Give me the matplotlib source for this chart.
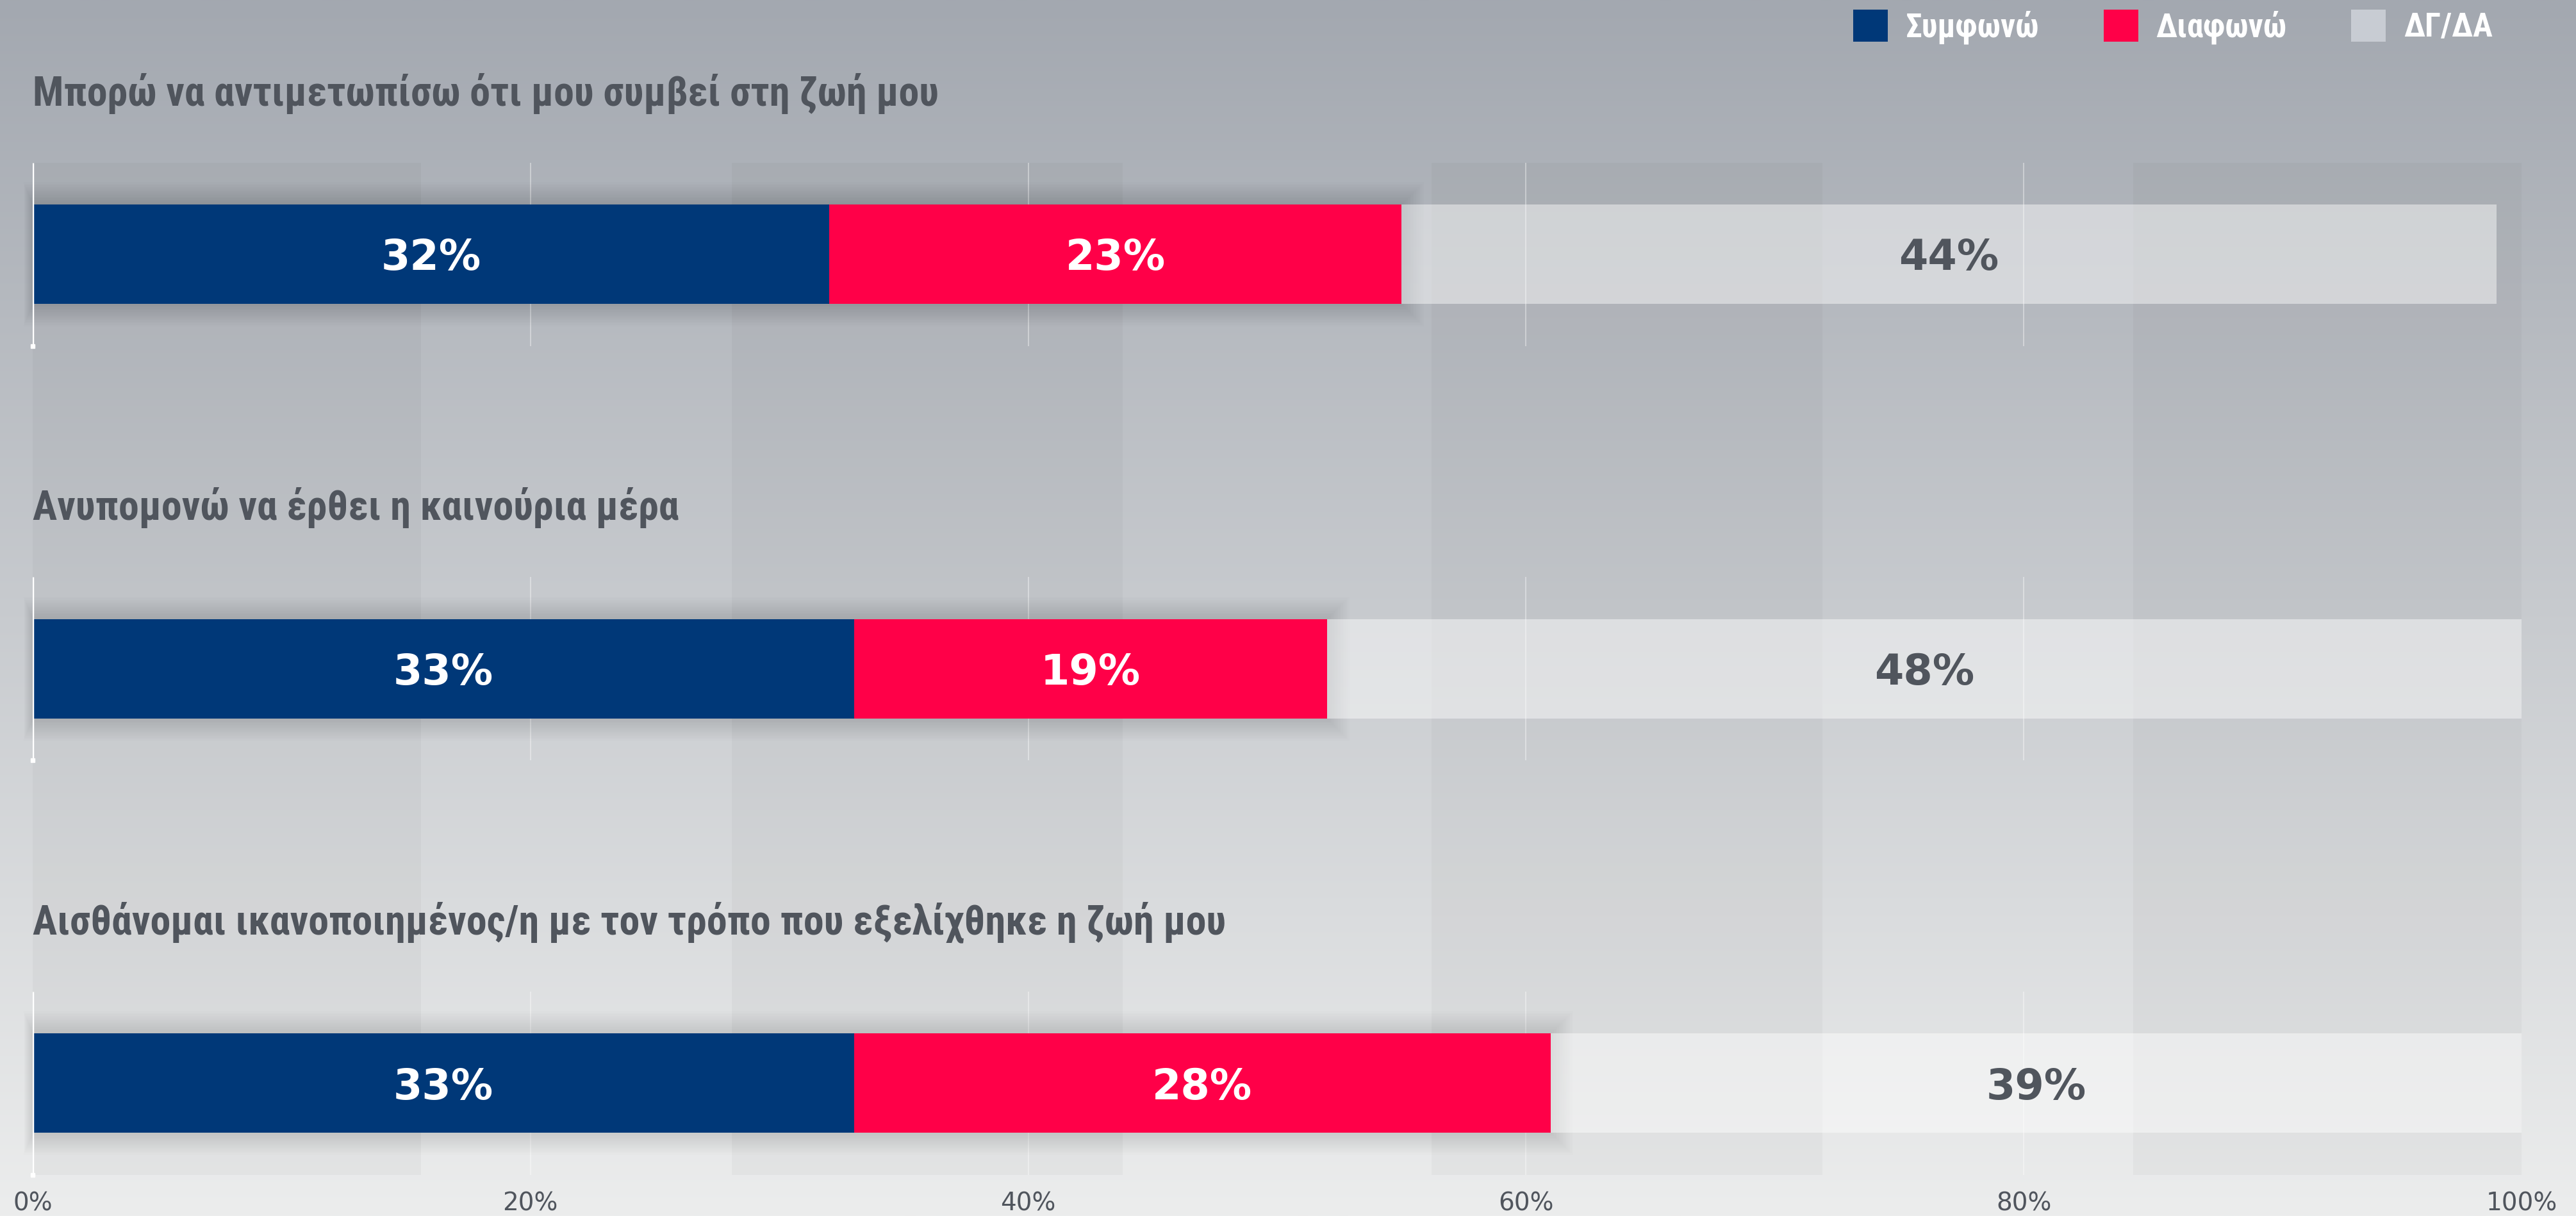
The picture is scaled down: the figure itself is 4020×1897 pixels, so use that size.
import numpy as np
import matplotlib
matplotlib.use("Agg")
import matplotlib.pyplot as plt
from matplotlib import font_manager as fm
from matplotlib.colors import to_rgb
from matplotlib.patches import Patch, Rectangle

# ---- data ----
statements = [
    "Μπορώ να αντιμετωπίσω ότι μου συμβεί στη ζωή μου",
    "Ανυπομονώ να έρθει η καινούρια μέρα",
    "Αισθάνομαι ικανοποιημένος/η με τον τρόπο που εξελίχθηκε η ζωή μου",
]
agree = [32, 33, 33]
disagree = [23, 19, 28]
dont_know = [44, 48, 39]
series_names = ["Συμφωνώ", "Διαφωνώ", "ΔΓ/ΔΑ"]
tick_values = [0, 20, 40, 60, 80, 100]
tick_labels = ["0%", "20%", "40%", "60%", "80%", "100%"]


def narrow_font():
    """Pick a condensed sans with Greek glyphs, if one is installed."""
    fonts = fm.fontManager.ttflist
    names = {f.name for f in fonts}
    for cand in ["Roboto Condensed", "Liberation Sans Narrow", "Noto Sans Condensed",
                 "Open Sans Condensed", "DejaVu Sans Condensed", "Noto Sans SemiCondensed",
                 "Open Sans SemiCondensed"]:
        if cand in names:
            return {"family": [cand, "DejaVu Sans"], "stretch": "normal", "found": True}
    for fam in ["Noto Sans", "Roboto", "Open Sans", "DejaVu Sans", "Liberation Sans"]:
        cond = [f for f in fonts if f.name == fam and str(f.stretch) in
                ("condensed", "semi-condensed", "extra-condensed", "75", "87.5", "62.5")]
        if cond:
            return {"family": [fam, "DejaVu Sans"], "stretch": "condensed", "found": True}
    return {"family": ["Roboto", "DejaVu Sans"], "stretch": "normal", "found": False}


NF = narrow_font()

# ---- style ----
NAVY = "#003878"
RED = "#ff0048"
TEXT_GREY = "#50555d"
WIDE = ["DejaVu Sans"]

W, H, DPI = 4020, 1897, 100
fig = plt.figure(figsize=(W / DPI, H / DPI), dpi=DPI)

# vertical background gradient
bg = fig.add_axes([0, 0, 1, 1], zorder=0)
top_c = np.array(to_rgb("#a3a8b0"))
bot_c = np.array(to_rgb("#eceded"))
t = np.linspace(0, 1, 600)[:, None]
grad = top_c * (1 - t) + bot_c * t
bg.imshow(grad[:, None, :], aspect="auto", extent=[0, 1, 0, 1], interpolation="bilinear")
bg.set_axis_off()

# plotting axes: x 0..100 %, one unit of y per statement
x_left_px, x_right_px, ax_h_px = 51, 3935, 1845
px_per_pct = (x_right_px - x_left_px) / 100.0
row_px = 646.5
first_row_px = 396.5
ax = fig.add_axes([x_left_px / W, (H - ax_h_px) / H, (x_right_px - x_left_px) / W, ax_h_px / H], zorder=1)
ax.patch.set_alpha(0)
ax.set_xlim(0, 100)
ax.set_ylim((ax_h_px - first_row_px) / row_px, -first_row_px / row_px)
for s in ax.spines.values():
    s.set_visible(False)
ax.set_yticks([])
ax.set_xticks(tick_values, tick_labels)
ax.tick_params(axis="x", length=0, pad=10, labelsize=28, labelcolor=TEXT_GREY)
for lab in ax.get_xticklabels():
    lab.set_fontfamily(WIDE)

n = len(statements)
ys = np.arange(n)
bar_h = 155 / row_px
grid_half = 143 / row_px

# decorative vertical bands behind the rows
band_edges = [(0, 15.6), (28.1, 43.8), (56.2, 71.9), (84.4, 100)]
for a, b in band_edges:
    ax.add_patch(Rectangle((a, -grid_half), b - a, (n - 1) + 2 * grid_half,
                           facecolor="black", alpha=0.028, edgecolor="none", zorder=0.5))

# per-row guide lines
for y in ys:
    ax.vlines([20, 40, 60, 80], y - grid_half, y + grid_half, color="white", alpha=0.45, lw=1.2, zorder=1)
    ax.vlines(0, y - grid_half, y + grid_half, color="white", lw=2.5, zorder=3)
    ax.plot([0], [y + grid_half], marker="s", ms=4, color="white", zorder=3, clip_on=False)

# soft shadow under the coloured part of each bar
for y, a, d in zip(ys, agree, disagree):
    for k in range(1, 15):
        p = k * 2.5
        ax.add_patch(Rectangle((-0.4 * p / px_per_pct, y - bar_h / 2 - p / row_px),
                               a + d + 1.4 * p / px_per_pct, bar_h + 2 * p / row_px,
                               facecolor="black", alpha=0.009, edgecolor="none",
                               zorder=1.5, clip_on=False))

agree_a = np.array(agree)
dis_a = np.array(disagree)
dk_a = np.array(dont_know)
b1 = ax.barh(ys, agree_a, height=bar_h, color=NAVY, zorder=2)
b2 = ax.barh(ys, dis_a, left=agree_a, height=bar_h, color=RED, zorder=2)
b3 = ax.barh(ys, dk_a, left=agree_a + dis_a, height=bar_h, color="white", alpha=0.45, zorder=2)

for bars, vals, col in [(b1, agree_a, "white"), (b2, dis_a, "white"), (b3, dk_a, TEXT_GREY)]:
    for rect, v in zip(bars, vals):
        ax.text(rect.get_x() + rect.get_width() / 2, rect.get_y() + rect.get_height() / 2,
                f"{v}%", ha="center", va="center_baseline", color=col,
                fontsize=47, fontweight="bold", family=WIDE, zorder=4)

# statement headings above each bar
title_size = 46 if NF["found"] else 40
for y, s in zip(ys, statements):
    ax.text(0, y - 232 / row_px, s, ha="left", va="baseline", color=TEXT_GREY,
            fontsize=title_size, fontweight="bold", family=NF["family"],
            fontstretch=NF["stretch"], zorder=4)

# legend
handles = [Patch(facecolor=NAVY), Patch(facecolor=RED), Patch(facecolor="#c8ccd3")]
leg = fig.legend(handles, series_names, loc="center right",
                 bbox_to_anchor=(3890 / W, 1 - 42 / H), bbox_transform=fig.transFigure,
                 ncol=3, frameon=False, borderpad=0, borderaxespad=0,
                 handlelength=1.05, handleheight=1.1, handletextpad=0.54,
                 columnspacing=1.96,
                 prop=fm.FontProperties(family=NF["family"], weight="bold",
                                        stretch=NF["stretch"], size=37 if NF["found"] else 32))
for txt in leg.get_texts():
    txt.set_color("white")

fig.savefig("out.png", dpi=DPI)
